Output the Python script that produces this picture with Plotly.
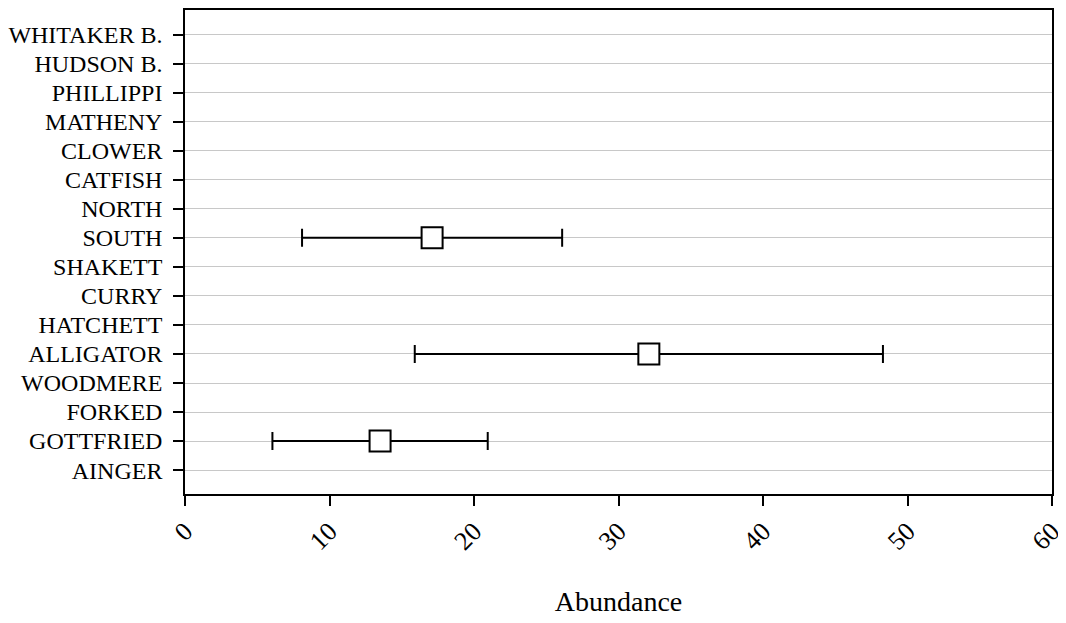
import plotly.graph_objects as go

sites = ["AINGER", "GOTTFRIED", "FORKED", "WOODMERE", "ALLIGATOR", "HATCHETT",
         "CURRY", "SHAKETT", "SOUTH", "NORTH", "CATFISH", "CLOWER", "MATHENY",
         "PHILLIPPI", "HUDSON B.", "WHITAKER B."]
means = [None, 13.5, None, None, 32.1, None, None, None, 17.1, None, None, None,
         None, None, None, None]
errors = [None, 7.45, None, None, 16.2, None, None, None, 9.0, None, None, None,
          None, None, None, None]
x_ticks = [0, 10, 20, 30, 40, 50, 60]

font_family = "Liberation Serif"

fig = go.Figure()
fig.add_trace(go.Scatter(
    x=means, y=sites, mode="markers",
    marker=dict(symbol="square", size=21, color="white",
                line=dict(color="black", width=2)),
    error_x=dict(type="data", array=errors, visible=True,
                 color="black", thickness=2, width=9),
    showlegend=False,
))

fig.update_layout(
    width=1058, height=615,
    margin=dict(l=175, r=14, t=0, b=129),
    paper_bgcolor="white", plot_bgcolor="white",
    font=dict(family=font_family, size=24, color="black"),
    xaxis=dict(
        range=[0, 60], tickvals=x_ticks, tickangle=-45,
        ticks="outside", ticklen=10, tickcolor="black", tickwidth=1.5,
        showgrid=False, zeroline=False,
        showline=True, linecolor="black", linewidth=1.5, mirror=True,
        title=dict(text="Abundance", standoff=37, font=dict(size=28)),
        tickfont=dict(size=26),
    ),
    yaxis=dict(
        type="category", categoryorder="array", categoryarray=sites,
        range=[-0.823, 15.847],
        ticks="outside", ticklen=10, tickcolor="black", tickwidth=1.5,
        ticklabelstandoff=6,
        showgrid=True, gridcolor="#c8c8c8", gridwidth=1,
        zeroline=False,
        showline=True, linecolor="black", linewidth=1.5, mirror=True,
        tickfont=dict(size=24),
    ),
)

fig.write_html("out.html")
